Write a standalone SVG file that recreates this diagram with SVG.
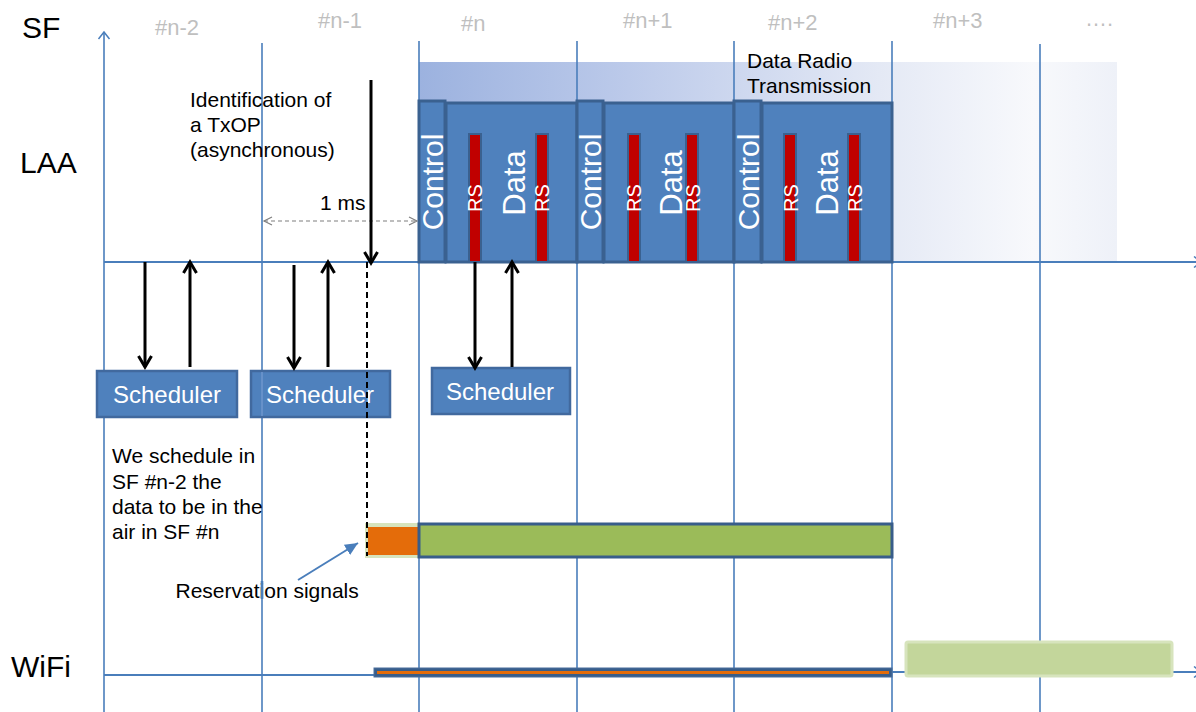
<svg xmlns="http://www.w3.org/2000/svg" width="1196" height="712" viewBox="0 0 1196 712">
<defs>
<linearGradient id="band" x1="0" y1="0" x2="1" y2="0">
<stop offset="0" stop-color="#9cb2df"/>
<stop offset="0.3" stop-color="#bccaea"/>
<stop offset="0.66" stop-color="#e4e9f5"/>
<stop offset="0.88" stop-color="#f8f9fc"/>
<stop offset="1" stop-color="#eef1f8"/>
</linearGradient>
<marker id="blk" markerUnits="userSpaceOnUse" viewBox="0 0 16 16" markerWidth="16" markerHeight="16" refX="13" refY="8" orient="auto">
<path d="M2,1.5 L13,8 L2,14.5" fill="none" stroke="#000" stroke-width="3"/>
</marker>
<marker id="gry" markerUnits="userSpaceOnUse" viewBox="0 0 12 12" markerWidth="12" markerHeight="12" refX="10" refY="6" orient="auto-start-reverse">
<path d="M2,2 L10,6 L2,10" fill="none" stroke="#7f7f7f" stroke-width="1.2"/>
</marker>
<marker id="axis" markerUnits="userSpaceOnUse" viewBox="0 0 14 14" markerWidth="14" markerHeight="14" refX="12" refY="7" orient="auto">
<path d="M5,1.5 L12,7 L5,12.5" fill="none" stroke="#4a7ebb" stroke-width="1.5"/>
</marker>
<marker id="blu" markerUnits="userSpaceOnUse" viewBox="0 0 14 14" markerWidth="14" markerHeight="14" refX="13" refY="7" orient="auto">
<path d="M0,1 L13,7 L0,13 Z" fill="#4a7ebb"/>
</marker>
<style>
.t{font-family:"Liberation Sans",Arial,sans-serif;}
.lbl{font-size:30px;fill:#000;}
.sf{font-size:22px;fill:#bfbfbf;}
.note{font-size:21px;fill:#000;}
.grid{stroke:#4a7ebb;stroke-width:1.6;fill:none;}
.blk{fill:#4f81bd;stroke:#3a6190;stroke-width:3;}
.rs{fill:#c00000;stroke:#3a6190;stroke-width:2;}
.wt{fill:#fff;text-anchor:middle;}
.sch{fill:#4f81bd;stroke:#41699e;stroke-width:2.5;}
.arr{stroke:#000;stroke-width:3;fill:none;marker-end:url(#blk);}
</style>
</defs>

<g id="band-bg">
<rect x="419" y="62" width="698" height="200" fill="url(#band)"/>
</g>

<g id="grid">
<line class="grid" x1="262" y1="43" x2="262" y2="712"/>
<line class="grid" x1="419" y1="41" x2="419" y2="712"/>
<line class="grid" x1="577" y1="41" x2="577" y2="712"/>
<line class="grid" x1="734" y1="41" x2="734" y2="712"/>
<line class="grid" x1="892" y1="41" x2="892" y2="712"/>
<line class="grid" x1="1040" y1="44" x2="1040" y2="712"/>
</g>

<g id="axes">
<line x1="104" y1="712" x2="104" y2="32" stroke="#4a7ebb" stroke-width="1.6" marker-end="url(#axis)"/>
<line x1="104" y1="262" x2="1201" y2="262" stroke="#4a7ebb" stroke-width="2" marker-end="url(#axis)"/>
<line x1="104" y1="675" x2="374" y2="675" stroke="#4a7ebb" stroke-width="2"/>
<line x1="892" y1="672" x2="1201" y2="672" stroke="#4a7ebb" stroke-width="2" marker-end="url(#axis)"/>
</g>

<g id="row-labels" class="t">
<text class="lbl" x="22" y="38">SF</text>
<text class="lbl" x="20" y="173">LAA</text>
<text class="lbl" x="11" y="677">WiFi</text>
</g>

<g id="sf-labels" class="t">
<text class="sf" x="155" y="35">#n-2</text>
<text class="sf" x="318" y="28">#n-1</text>
<text class="sf" x="461" y="31">#n</text>
<text class="sf" x="623" y="28">#n+1</text>
<text class="sf" x="768" y="30">#n+2</text>
<text class="sf" x="933" y="28">#n+3</text>
<text class="sf" x="1085" y="26">….</text>
</g>

<g id="data-radio-label" class="t">
<text class="note" x="747" y="68">Data Radio</text>
<text class="note" x="747" y="93">Transmission</text>
</g>

<g id="sf-n" class="t">
<rect class="blk" x="419" y="101" width="26" height="161"/>
<rect class="blk" x="446" y="103" width="131" height="159"/>
<rect class="rs" x="469" y="134" width="12" height="128"/>
<rect class="rs" x="536" y="134" width="12" height="128"/>
<text class="wt" font-size="30" transform="translate(443,182) rotate(-90)">Control</text>
<text class="wt" font-size="31" transform="translate(525,183) rotate(-90)">Data</text>
<text class="wt" font-size="20" transform="translate(482,198) rotate(-90)">RS</text>
<text class="wt" font-size="20" transform="translate(549,198) rotate(-90)">RS</text>
</g>

<g id="sf-n1" class="t">
<rect class="blk" x="577" y="101" width="26" height="161"/>
<rect class="blk" x="604" y="103" width="130" height="159"/>
<rect class="rs" x="628" y="134" width="12" height="128"/>
<rect class="rs" x="686" y="134" width="12" height="128"/>
<text class="wt" font-size="30" transform="translate(601,182) rotate(-90)">Control</text>
<text class="wt" font-size="31" transform="translate(682,183) rotate(-90)">Data</text>
<text class="wt" font-size="20" transform="translate(641,198) rotate(-90)">RS</text>
<text class="wt" font-size="20" transform="translate(700,198) rotate(-90)">RS</text>
</g>

<g id="sf-n2" class="t">
<rect class="blk" x="734" y="101" width="27" height="161"/>
<rect class="blk" x="762" y="103" width="130" height="159"/>
<rect class="rs" x="784" y="134" width="12" height="128"/>
<rect class="rs" x="848" y="134" width="12" height="128"/>
<text class="wt" font-size="30" transform="translate(759,182) rotate(-90)">Control</text>
<text class="wt" font-size="31" transform="translate(838,183) rotate(-90)">Data</text>
<text class="wt" font-size="20" transform="translate(798,198) rotate(-90)">RS</text>
<text class="wt" font-size="20" transform="translate(862,198) rotate(-90)">RS</text>
</g>

<g id="txop-label" class="t">
<text class="note" x="190" y="107">Identification of</text>
<text class="note" x="190" y="132">a TxOP</text>
<text class="note" x="190" y="157">(asynchronous)</text>
</g>

<g id="ms-label" class="t">
<text class="note" x="320" y="210">1 ms</text>
</g>

<g id="scheduler-1" class="t">
<rect class="sch" x="97" y="371" width="140" height="46"/>
<text class="wt" font-size="24" x="167" y="403">Scheduler</text>
</g>
<g id="scheduler-2" class="t">
<rect class="sch" x="251" y="371" width="139" height="46"/>
<line x1="262" y1="372" x2="262" y2="416" stroke="#7199cf" stroke-width="1.4"/>
<text class="wt" font-size="24" x="320" y="403">Scheduler</text>
</g>
<g id="scheduler-3" class="t">
<rect class="sch" x="432" y="368" width="138" height="46"/>
<text class="wt" font-size="24" x="500" y="400">Scheduler</text>
</g>

<g id="schedule-note" class="t">
<text class="note" x="112" y="463">We schedule in</text>
<text class="note" x="112" y="489">SF #n-2 the</text>
<text class="note" x="112" y="514">data to be in the</text>
<text class="note" x="112" y="539">air in SF #n</text>
</g>

<g id="reservation-label" class="t">
<text class="note" x="175.5" y="598">Reservation signals</text>
<line x1="262" y1="581" x2="262" y2="599" stroke="#4a7ebb" stroke-width="2.6"/>
</g>

<g id="laa-tx-bar">
<rect x="365" y="523" width="54" height="35" fill="#d7e4bd"/>
<rect x="368" y="527" width="51" height="28" fill="#e46c0a"/>
<rect x="419" y="524" width="473" height="33" fill="#9bbb59" stroke="#385d8a" stroke-width="3"/>
</g>

<g id="wifi-busy-bar">
<rect x="374" y="668" width="518" height="9" fill="#385d8a" stroke="#4a6e9c" stroke-width="1"/>
<line x1="377" y1="672.5" x2="889" y2="672.5" stroke="#e46c0a" stroke-width="3"/>
</g>

<g id="wifi-tx-bar">
<rect x="906" y="642" width="266" height="34" fill="#c3d69b" stroke="#d7e4bd" stroke-width="3" rx="2"/>
</g>

<g id="connectors">
<line x1="264" y1="221" x2="417" y2="221" stroke="#7f7f7f" stroke-width="1.2" stroke-dasharray="4 3" marker-start="url(#gry)" marker-end="url(#gry)"/>
<line class="arr" x1="371" y1="80" x2="371" y2="263"/>
<line x1="367" y1="262" x2="367" y2="556" stroke="#000" stroke-width="2" stroke-dasharray="6 4"/>
<line class="arr" x1="145" y1="262" x2="145" y2="367"/>
<line class="arr" x1="190" y1="367" x2="190" y2="262"/>
<line class="arr" x1="294" y1="265" x2="294" y2="368"/>
<line class="arr" x1="328" y1="367" x2="328" y2="262"/>
<line class="arr" x1="475" y1="262" x2="475" y2="368"/>
<line class="arr" x1="512" y1="367" x2="512" y2="262"/>
<line x1="298" y1="580" x2="358" y2="543" stroke="#4a7ebb" stroke-width="2" marker-end="url(#blu)"/>
</g>
</svg>
